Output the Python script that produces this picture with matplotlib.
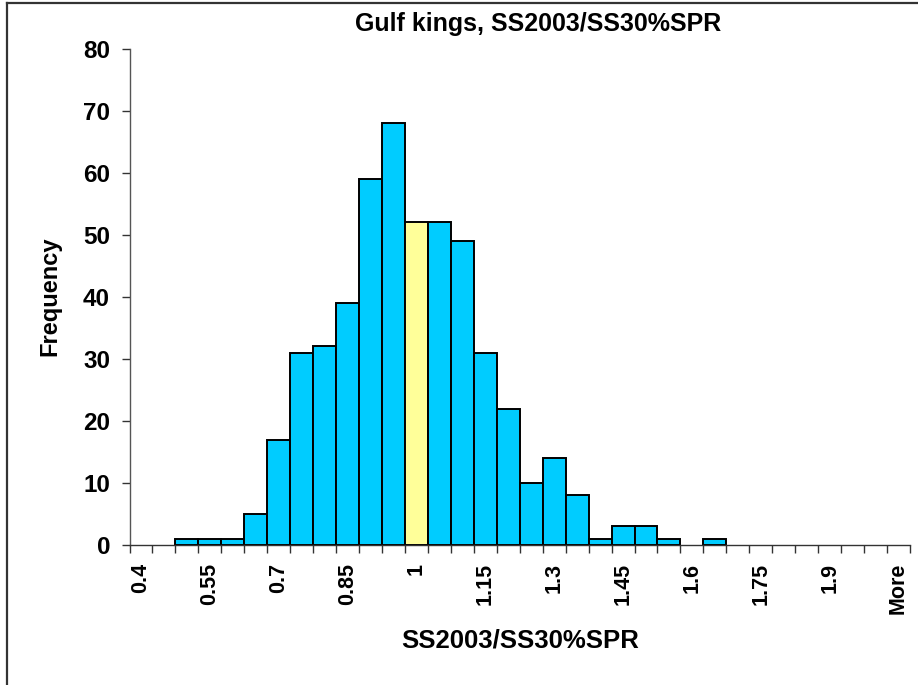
import matplotlib
matplotlib.use("Agg")
import matplotlib.pyplot as plt
from matplotlib.lines import Line2D
import numpy as np

plt.rcParams['font.family'] = ['Liberation Sans', 'DejaVu Sans']
plt.rcParams['font.weight'] = 'bold'

title = "Gulf kings, SS2003/SS30%SPR"
xlabel = "SS2003/SS30%SPR"
ylabel = "Frequency"

categories = ["0.4", "0.45", "0.5", "0.55", "0.6", "0.65", "0.7", "0.75", "0.8",
              "0.85", "0.9", "0.95", "1", "1.05", "1.1", "1.15", "1.2", "1.25",
              "1.3", "1.35", "1.4", "1.45", "1.5", "1.55", "1.6", "1.65", "1.7",
              "1.75", "1.8", "1.85", "1.9", "1.95", "2", "More"]
frequency = [0, 0, 1, 1, 1, 5, 17, 31, 32, 39, 59, 68, 52, 52, 49, 31, 22, 10,
             14, 8, 1, 3, 3, 1, 0, 1, 0, 0, 0, 0, 0, 0, 0, 0]
highlight = "1"
yticks = [0, 10, 20, 30, 40, 50, 60, 70, 80]

W, H = 918, 685
fig = plt.figure(figsize=(W / 100, H / 100), dpi=100)
fig.patch.set_facecolor('white')

# outer chart border (partially cut like the reference)
def px(x, y):
    return x / W, 1 - y / H
x0, y0 = px(7, 3)
x1, _ = px(918, 3)
_, y1 = px(7, 685)
fig.add_artist(Line2D([x0, x1], [y0, y0], color='#333333', lw=1.6, transform=fig.transFigure))
fig.add_artist(Line2D([x0, x0], [y0, y1], color='#333333', lw=1.6, transform=fig.transFigure))

left, right = 129.5 / W, 910 / W
bottom, top = 1 - 545 / H, 1 - 48.7 / H
ax = fig.add_axes([left, bottom, right - left, top - bottom])

n = len(categories)
pos = np.arange(n)
colors = ['#FFFF99' if c == highlight else '#00CCFF' for c in categories]
lws = [1.4 if v > 0 else 0 for v in frequency]
ax.bar(pos + 0.5, frequency, width=1.0, color=colors, edgecolor='black',
       linewidth=lws, zorder=2)

ax.set_xlim(0, n)
ax.set_ylim(0, 80)
ax.set_yticks(yticks)
ax.set_yticklabels([str(v) for v in yticks], fontsize=17.5, fontweight='bold')

ax.set_xticks(np.arange(n + 1))
ax.set_xticklabels([])
ax.set_xticks(pos[::3] + 0.5, minor=True)
ax.set_xticklabels(categories[::3], minor=True, rotation=90, fontsize=15.5,
                   fontweight='bold')
ax.tick_params(axis='x', which='major', length=5.5, width=1, direction='out', color='#333333')
ax.tick_params(axis='x', which='minor', length=0, pad=13)
ax.tick_params(axis='y', length=6, width=1, direction='out', pad=8, color='#333333')

for s in ['top', 'right']:
    ax.spines[s].set_visible(False)
ax.spines['left'].set_color('#555555')
ax.spines['bottom'].set_color('#333333')
ax.spines['left'].set_linewidth(1.0)
ax.spines['bottom'].set_linewidth(1.0)

fig.text(538 / W, 1 - 24 / H, title, ha='center', va='center', fontsize=18,
         fontweight='bold')
fig.text(520 / W, 1 - 640 / H, xlabel, ha='center', va='center', fontsize=18.5,
         fontweight='bold')
fig.text(50 / W, 1 - 296 / H, ylabel, ha='center', va='center', rotation=90,
         fontsize=17, fontweight='bold')

fig.savefig('out.png', dpi=100)
